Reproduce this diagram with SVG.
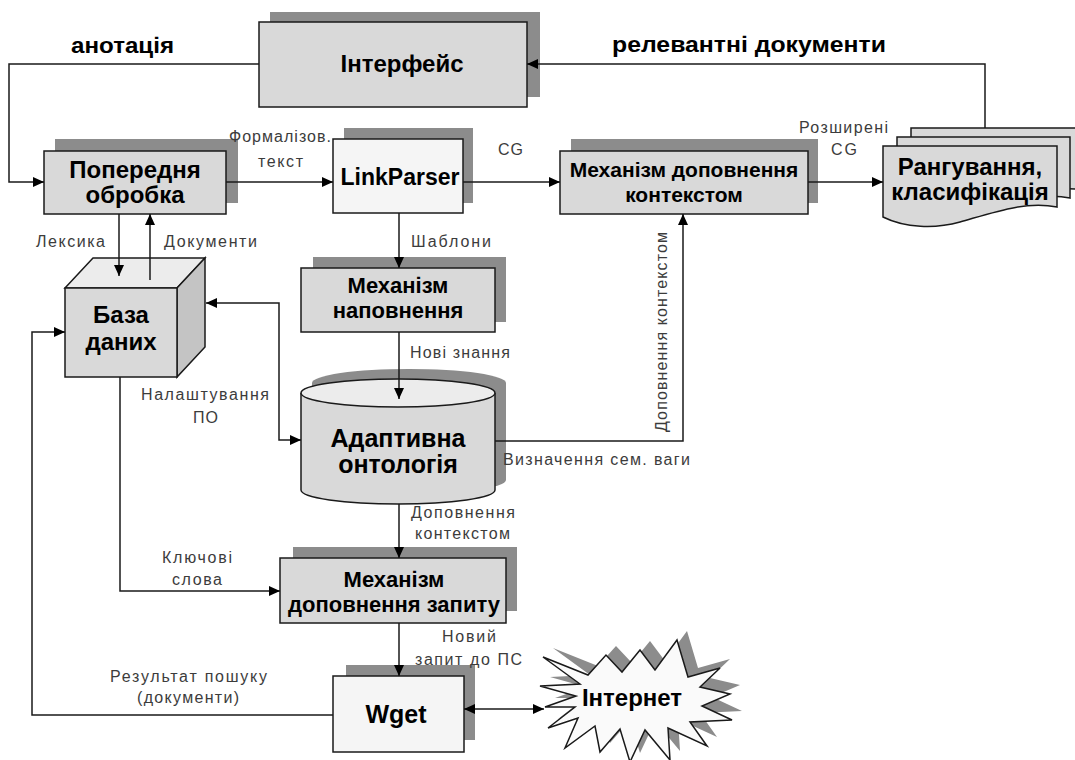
<svg xmlns="http://www.w3.org/2000/svg" width="1075" height="760" viewBox="0 0 1075 760">
<defs>
<style>
.bg{fill:#ffffff}
.sh{fill:#8c8c8c;stroke:none}
.bx{fill:#d9d9d9;stroke:#1a1a1a;stroke-width:1.5}
.lt{fill:#f5f5f5;stroke:#1a1a1a;stroke-width:1.5}
.top{fill:#ececec;stroke:#1a1a1a;stroke-width:1.5}
.side{fill:#c4c4c4;stroke:#1a1a1a;stroke-width:1.5}
.nt{font-family:"Liberation Sans","DejaVu Sans",sans-serif;font-weight:bold;fill:#000;text-anchor:middle}
.lb{font-family:"Liberation Sans","DejaVu Sans",sans-serif;font-size:16px;fill:#3c3c3c}
.bl{font-family:"Liberation Sans","DejaVu Sans",sans-serif;font-size:22px;font-weight:bold;fill:#000}
.cn{fill:none;stroke:#1a1a1a;stroke-width:1.5}
</style>
<marker id="ah" markerUnits="userSpaceOnUse" markerWidth="11" markerHeight="10" refX="11" refY="5" orient="auto-start-reverse" viewBox="0 0 11 10">
<path d="M0,0 L11,5 L0,10 Z" fill="#000"/>
</marker>
</defs>
<rect class="bg" x="0" y="0" width="1075" height="760"/>

<g id="interface">
<rect class="sh" x="270" y="12" width="270" height="85"/>
<rect class="bx" x="259" y="22" width="268" height="85"/>
<text class="nt" x="402" y="72" font-size="24">Інтерфейс</text>
</g>

<g id="preprocessing">
<rect class="sh" x="55" y="139" width="183" height="64"/>
<rect class="bx" x="44" y="151" width="182" height="63"/>
<text class="nt" x="135" y="178" font-size="24">Попередня</text>
<text class="nt" x="135" y="203" font-size="24">обробка</text>
</g>

<g id="linkparser">
<rect class="sh" x="344" y="128" width="129" height="75"/>
<rect class="lt" x="333" y="139" width="130" height="74"/>
<text class="nt" x="400" y="185" font-size="23">LinkParser</text>
</g>

<g id="context-mechanism">
<rect class="sh" x="571" y="139" width="247" height="64"/>
<rect class="bx" x="560" y="151" width="248" height="63"/>
<text class="nt" x="684" y="177" font-size="21">Механізм доповнення</text>
<text class="nt" x="684" y="202" font-size="21">контекстом</text>
</g>

<g id="ranking">
<path class="bx" d="M911,128 H1085 V190 C1060,186 1040,192 1020,198 L911,200 Z"/>
<path class="bx" d="M897,137 H1070 V198 C1045,193 1020,200 1000,206 L897,208 Z"/>
<path class="bx" d="M883,146 H1057 V207 C1025,201 995,212 960,222 C935,229 905,228 883,217 Z"/>
<text class="nt" x="970" y="175" font-size="24">Рангування,</text>
<text class="nt" x="970" y="200" font-size="24">класифікація</text>
</g>

<g id="database">
<polygon class="top" points="65,288 93,258 205,258 177,288"/>
<polygon class="side" points="177,288 205,258 205,347 177,377"/>
<rect class="bx" x="65" y="288" width="112" height="89"/>
<text class="nt" x="121" y="323" font-size="24">База</text>
<text class="nt" x="121" y="350" font-size="24">даних</text>
</g>

<g id="fill-mechanism">
<rect class="sh" x="313" y="257" width="193" height="65"/>
<rect class="bx" x="301" y="268" width="194" height="64"/>
<text class="nt" x="398" y="293" font-size="22">Механізм</text>
<text class="nt" x="398" y="318" font-size="22">наповнення</text>
</g>

<g id="ontology">
<path class="sh" d="M312,383 V480 A97,14 0 0 0 506,480 V383 A97,14 0 0 0 312,383 Z"/>
<path class="bx" d="M301,393 V490 A97,14 0 0 0 495,490 V393"/>
<ellipse class="top" cx="398" cy="393" rx="97" ry="14"/>
<text class="nt" x="398" y="447" font-size="25">Адаптивна</text>
<text class="nt" x="398" y="473" font-size="25">онтологія</text>
</g>

<g id="query-mechanism">
<rect class="sh" x="293" y="547" width="224" height="64"/>
<rect class="bx" x="280" y="558" width="226" height="65"/>
<text class="nt" x="394" y="587" font-size="22">Механізм</text>
<text class="nt" x="394" y="612" font-size="22">доповнення запиту</text>
</g>

<g id="wget">
<rect class="sh" x="346" y="665" width="129" height="75"/>
<rect class="lt" x="333" y="676" width="131" height="76"/>
<text class="nt" x="396" y="723" font-size="25">Wget</text>
</g>

<g id="internet">
<polygon class="sh" transform="translate(10,-9)" points="543,657 588,675 606,655 622,672 640,650 655,670 677,640 688,677 720,668 700,687 730,694 702,706 732,720 690,722 707,746 668,728 670,760 645,730 630,762 620,729 600,752 595,726 565,748 578,718 548,728 575,707 545,707 576,696 540,686 580,684"/>
<polygon fill="#fafafa" stroke="#1a1a1a" stroke-width="1.5" points="543,657 588,675 606,655 622,672 640,650 655,670 677,640 688,677 720,668 700,687 730,694 702,706 732,720 690,722 707,746 668,728 670,760 645,730 630,762 620,729 600,752 595,726 565,748 578,718 548,728 575,707 545,707 576,696 540,686 580,684"/>
<text class="nt" x="632" y="706" font-size="24">Інтернет</text>
</g>

<g id="connectors">
<path class="cn" d="M259,64 H9 V182 H44" marker-end="url(#ah)"/>
<path class="cn" d="M985,128 V64 H527" marker-end="url(#ah)"/>
<path class="cn" d="M226,182 H333" marker-end="url(#ah)"/>
<path class="cn" d="M463,182 H560" marker-end="url(#ah)"/>
<path class="cn" d="M808,182 H883" marker-end="url(#ah)"/>
<path class="cn" d="M119,214 V276" marker-end="url(#ah)"/>
<path class="cn" d="M150,280 V214" marker-end="url(#ah)"/>
<path class="cn" d="M399,213 V268" marker-end="url(#ah)"/>
<path class="cn" d="M399,332 V399" marker-end="url(#ah)"/>
<path class="cn" d="M495,441 H683 V214" marker-end="url(#ah)"/>
<path class="cn" d="M206,303 H279 V440 H301" marker-start="url(#ah)" marker-end="url(#ah)"/>
<path class="cn" d="M399,504 V558" marker-end="url(#ah)"/>
<path class="cn" d="M120,377 V591 H280" marker-end="url(#ah)"/>
<path class="cn" d="M399,623 V676" marker-end="url(#ah)"/>
<path class="cn" d="M333,715 H32 V332 H65" marker-end="url(#ah)"/>
<path class="cn" d="M464,709 H544" marker-start="url(#ah)" marker-end="url(#ah)"/>
</g>

<g id="labels">
<text class="bl" x="71" y="53" textLength="103" lengthAdjust="spacingAndGlyphs">анотація</text>
<text class="bl" x="612" y="52" textLength="274" lengthAdjust="spacingAndGlyphs">релевантні документи</text>
<text class="lb" x="229" y="142" textLength="102">Формалізов.</text>
<text class="lb" x="258" y="167" textLength="45">текст</text>
<text class="lb" x="498" y="155" textLength="25">CG</text>
<text class="lb" x="799" y="133" textLength="89">Розширені</text>
<text class="lb" x="831" y="155" textLength="26">CG</text>
<text class="lb" x="36" y="247" textLength="69">Лексика</text>
<text class="lb" x="164" y="247" textLength="93">Документи</text>
<text class="lb" x="411" y="247" textLength="80">Шаблони</text>
<text class="lb" x="141" y="400" textLength="128">Налаштування</text>
<text class="lb" x="193" y="423" textLength="25">ПО</text>
<text class="lb" x="410" y="358" textLength="100">Нові знання</text>
<text class="lb" transform="translate(667,432) rotate(-90)" x="0" y="0" textLength="200">Доповнення контекстом</text>
<text class="lb" x="503" y="465" textLength="187">Визначення сем. ваги</text>
<text class="lb" x="411" y="518" textLength="104">Доповнення</text>
<text class="lb" x="415" y="539" textLength="95">контекстом</text>
<text class="lb" x="162" y="563" textLength="70">Ключові</text>
<text class="lb" x="172" y="585" textLength="50">слова</text>
<text class="lb" x="442" y="642" textLength="54">Новий</text>
<text class="lb" x="415" y="665" textLength="107">запит до ПС</text>
<text class="lb" x="110" y="682" textLength="157">Результат пошуку</text>
<text class="lb" x="137" y="703" textLength="102">(документи)</text>
</g>
</svg>
